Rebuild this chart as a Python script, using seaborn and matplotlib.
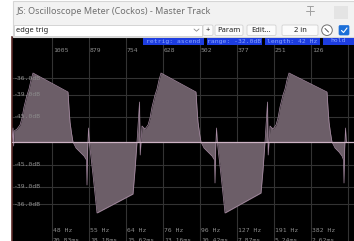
import matplotlib
matplotlib.use("Agg")
import matplotlib.pyplot as plt
import seaborn as sns
import pandas as pd
from matplotlib.patches import Rectangle, FancyBboxPatch, Circle
from matplotlib.lines import Line2D

sns.set_theme(style="dark")
plt.rcParams["font.family"] = ["DejaVu Sans"]

# ---------------- data ----------------
window_title = "JS: Oscilloscope Meter (Cockos) - Master Track"
preset_name = "edge trig"
buttons = ["+", "Param", "Edit...", "2 in"]
status_labels = ["retrig: ascend", "range: -32.0dB", "length: 42 Hz", "hold"]
sample_labels = ["1005", "879", "754", "628", "502", "377", "251", "126"]
freq_labels = ["48 Hz", "55 Hz", "64 Hz", "76 Hz", "96 Hz", "127 Hz", "191 Hz", "382 Hz"]
period_labels = ["20.83ms", "18.18ms", "15.62ms", "13.16ms", "10.42ms", "7.87ms", "5.24ms", "2.62ms"]
grid_samples = [40, 77, 114, 151, 188, 225, 262, 299, 336]
db_labels = ["-36.0dB", "-39.0dB", "-45.0dB", "-45.0dB", "-39.0dB", "-36.0dB"]
db_levels = [64, 47, 25, -23, -45, -62]

wave_t = [0, 1, 1.6, 2.2, 5, 8, 10, 12, 15, 17, 19, 21, 56, 57, 58, 59.5, 61, 64, 68, 72, 74.5,
          75, 75.6, 76.5, 77.3, 81, 85, 121, 123, 125, 127.5, 128.2, 129,
          130, 133, 136, 138, 140, 143, 145, 147, 149, 184, 185, 186, 187.5, 189, 192, 196, 200, 202.5,
          203, 203.6, 204.5, 205.3, 209, 213, 249, 251, 253, 255.5, 256.2, 257,
          258, 261, 264, 266, 268, 271, 273, 275, 277, 315, 316, 317, 318.5, 320, 323, 327, 330, 331.5,
          332, 332.6, 333.5, 334.3]
wave_amp = [0, 14, -4, 11, 13, 17, 24, 35, 47, 53, 62, 69, 50, 34, 20, 9, 0, -6, -10, -14, -18,
            -43, -8, 14, 0, -33, -71, -52, -28, 0, 40, -13, 0,
            16, 13, 17, 24, 35, 47, 53, 62, 69, 50, 34, 20, 9, 0, -6, -10, -14, -18,
            -41, -8, 14, 0, -33, -71, -51, -28, 0, 40, -13, 0,
            16, 13, 17, 24, 35, 47, 53, 62, 69, 50, 34, 20, 9, 0, -6, -10, -14, -18,
            -41, -8, 14, 0]

W, H = 354, 241
fig = plt.figure(figsize=(W / 100, H / 100), dpi=100)
fig.patch.set_facecolor("white")

# ---------------- scope axes ----------------
top_px = 37
ax = fig.add_axes([12 / W, 0, (W - 12) / W, (H - top_px) / H])
ax.set_facecolor("black")
ax.set_xlim(0, W - 12)
ax.set_ylim(142 - H, 142 - top_px)
ax.set_xticks(grid_samples)
ax.set_yticks(db_levels)
ax.tick_params(length=0, labelbottom=False, labelleft=False)
ax.grid(True, color="#333333", lw=0.8)
for s in ["top", "right", "bottom"]:
    ax.spines[s].set_visible(False)
ax.spines["left"].set_color("#5a2a28")
ax.spines["left"].set_linewidth(1.2)

df = pd.DataFrame({"t": wave_t, "amp": wave_amp})
ax.fill_between(df["t"], 0, df["amp"], color="#6c5e68", lw=0, zorder=2)
sns.lineplot(data=df, x="t", y="amp", ax=ax, color="#a88ca4", lw=0.5,
             estimator=None, sort=False, zorder=3)
ax.axhline(0, color="#cdb3c4", lw=0.9, zorder=4)
ax.set_xlabel("")
ax.set_ylabel("")

mono = dict(family="DejaVu Sans Mono", fontsize=4.6, color="#8c8c8c")
for gx, lab in zip(grid_samples, sample_labels):
    ax.text(gx + 1, 142 - 50, lab, ha="left", va="center", zorder=5, **mono)
for gx, lab, per in zip(grid_samples, freq_labels, period_labels):
    ax.text(gx + 1, 142 - 231, lab, ha="left", va="center", zorder=5, **mono)
    ax.text(gx + 1, 142 - 240, per, ha="left", va="center", zorder=5, clip_on=False, **mono)
for lv, lab in zip(db_levels, db_labels):
    ax.text(2, lv, lab, ha="left", va="center", zorder=5, **mono)

# ---------------- UI overlay ----------------
ui = fig.add_axes([0, 0, 1, 1], zorder=10)
ui.set_xlim(0, W)
ui.set_ylim(H, 0)
ui.axis("off")
ui.patch.set_alpha(0)

ui.add_patch(Rectangle((12.5, 0.5), W - 12, top_px - 0.5, facecolor="#f2f2f2",
                       edgecolor="#d6d6d6", lw=0.8))
ui.text(17, 11.5, window_title, fontsize=6.5, color="#707070", va="center", ha="left",
        family="Noto Sans")
# pin icon
for seg in [((307, 313), (6, 6)), ((310, 310), (6, 15)), ((306, 314), (11, 11))]:
    ui.add_line(Line2D(seg[0], seg[1], color="#a0a0a0", lw=0.7))
ui.add_patch(Rectangle((334, 6), 14, 13, facecolor="#e4e4e4", edgecolor="none"))

# preset combo
ui.add_patch(Rectangle((13.5, 25), 188, 10.5, facecolor="white", edgecolor="#cfcfcf", lw=0.6))
ui.text(16, 30.3, preset_name, fontsize=5.4, color="#222222", va="center", ha="left",
        family="Noto Sans")
ui.add_line(Line2D([194, 196.5, 199], [29, 31.2, 29], color="#8a8a8a", lw=0.6))

btn_boxes = [(203, 10), (215, 28), (247, 29), (282, 36)]
for (bx, bw), lab in zip(btn_boxes, buttons):
    ui.add_patch(FancyBboxPatch((bx, 25), bw, 10.5, boxstyle="round,pad=0,rounding_size=1.5",
                                facecolor="#fbfbfb", edgecolor="#d2d2d2", lw=0.6))
    ui.text(bx + bw / 2, 30.3, lab, fontsize=5.4, color="#222222", va="center", ha="center",
            family="Noto Sans")

ui.add_patch(Circle((327, 30.2), 5.3, facecolor="white", edgecolor="#707070", lw=0.7))
ui.add_line(Line2D([325, 328.5], [28.5, 32], color="#505050", lw=0.7))
ui.add_patch(FancyBboxPatch((339, 25.5), 10, 9.5, boxstyle="round,pad=0,rounding_size=1.2",
                            facecolor="#1c6fd8", edgecolor="#1c6fd8", lw=0.5))
ui.add_line(Line2D([341.5, 343.5, 347], [30.5, 32.5, 28], color="white", lw=0.8))

# status labels on the scope
status_boxes = [(143, 61), (207, 55), (265, 55), (323, 31)]
for (sx, sw), lab in zip(status_boxes, status_labels):
    ui.add_patch(Rectangle((sx, 37.5), sw, 7, facecolor="#1d3de0", edgecolor="none"))
    ui.text(sx + sw / 2, 41, lab, fontsize=4.6, color="#8aa4ff", va="center", ha="center",
            family="DejaVu Sans Mono", clip_on=True)

fig.savefig("out.png", dpi=100)
